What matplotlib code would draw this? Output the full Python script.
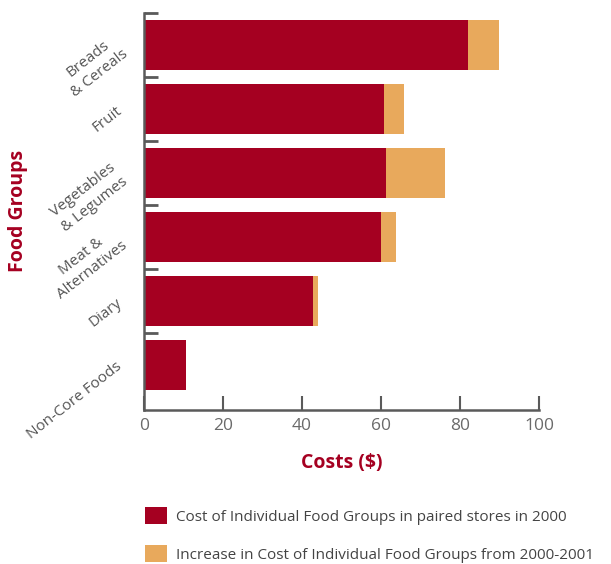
import matplotlib
matplotlib.use("Agg")
import matplotlib.pyplot as plt
from matplotlib.patches import Patch
import numpy as np

categories = ["Breads\n& Cereals", "Fruit", "Vegetables\n& Legumes",
              "Meat &\nAlternatives", "Diary", "Non-Core Foods"]
cost_2000 = [82.1, 60.8, 61.3, 60.0, 42.8, 10.6]
increase_2001 = [7.8, 5.1, 15.0, 3.8, 1.3, 0.0]
x_ticks = [0, 20, 40, 60, 80, 100]

series_labels = ["Cost of Individual Food Groups in paired stores in 2000",
                 "Increase in Cost of Individual Food Groups from 2000-2001"]

RED = "#A50021"
ORANGE = "#E8A95C"
GRAY = "#5a5a5a"
TEXT = "#555555"

plt.rcParams["font.family"] = ["Open Sans", "DejaVu Sans"]

fig = plt.figure(figsize=(6.11, 5.64), dpi=100)
ax = fig.add_axes([144 / 611, 1 - 410 / 564, 395 / 611, 397 / 564])

y = np.arange(len(categories))
bar_h = 0.78
ax.barh(y, cost_2000, height=bar_h, color=RED, zorder=2)
ax.barh(y, increase_2001, left=cost_2000, height=bar_h, color=ORANGE, zorder=2)

ax.set_xlim(0, 100)
ax.set_ylim(5.70, -0.5)

for side in ("top", "right"):
    ax.spines[side].set_visible(False)
for side in ("left", "bottom"):
    ax.spines[side].set_color(GRAY)
    ax.spines[side].set_linewidth(1.8)

ax.set_xticks(x_ticks)
ax.set_xticklabels([str(v) for v in x_ticks])
ax.tick_params(axis="x", direction="in", length=10, width=1.5, color=GRAY,
               labelsize=12.5, labelcolor="#6a6a6a", pad=6)

# category separators as inward ticks on the y axis
ax.set_yticks(np.arange(len(categories)) - 0.5)
ax.set_yticklabels([])
ax.tick_params(axis="y", direction="in", length=10, width=2, color=GRAY)

for i, lab in enumerate(categories):
    ax.text(-0.06, i, lab, transform=ax.get_yaxis_transform(),
            rotation=38, rotation_mode="anchor", ha="right", va="center",
            multialignment="center", fontsize=11, color=TEXT,
            linespacing=1.3)

fig.text(341.5 / 611, 1 - 463 / 564, "Costs ($)", ha="center", va="center",
         fontsize=14, fontweight="bold", color=RED)
fig.text(18 / 611, 1 - 211 / 564, "Food Groups", ha="center", va="center",
         rotation=90, fontsize=14, fontweight="bold", color=RED)

handles = [Patch(facecolor=RED, edgecolor="none"),
           Patch(facecolor=ORANGE, edgecolor="none")]
fig.legend(handles, series_labels, loc="upper left",
           bbox_to_anchor=(133 / 611, 1 - 495 / 564), frameon=False,
           fontsize=11, labelcolor="#444444", handlelength=1.45,
           handleheight=1.3, handletextpad=0.55, labelspacing=1.35,
           borderpad=0.3)

fig.savefig("out.png", dpi=100)
